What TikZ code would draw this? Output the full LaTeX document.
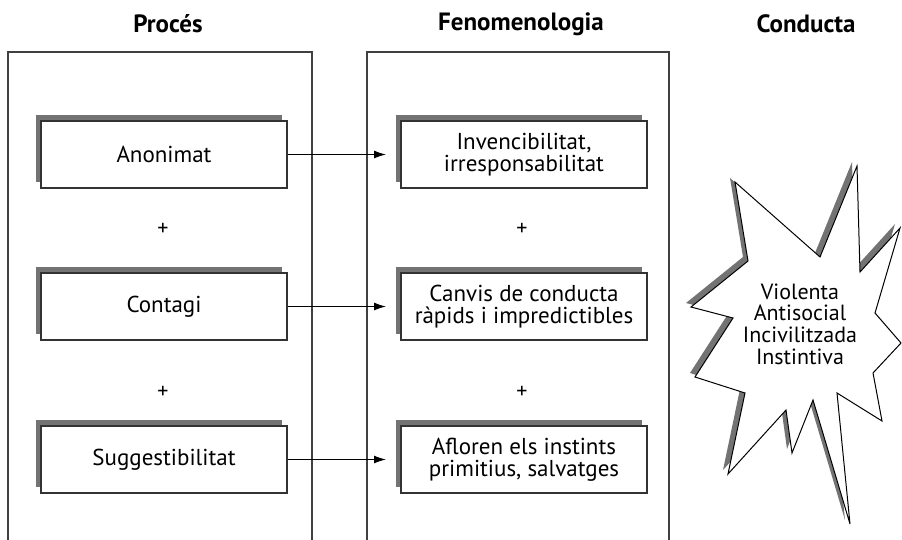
\documentclass[tikz,border=0pt]{standalone}
\usepackage{fontspec}
\setmainfont{PT Sans}
\usetikzlibrary{shadows,arrows.meta}
\begin{document}
\begin{tikzpicture}[x=1pt,y=-1pt,
  panel/.style={draw=black!75,line width=1.3pt},
  boxstyle/.style={draw=black!80,line width=1.2pt,fill=white,minimum width=246pt,minimum height=67pt,
    inner sep=0pt,align=center,font=\fontsize{23}{21.5}\selectfont,
    drop shadow={shadow xshift=-5pt,shadow yshift=6pt,fill=black!55,opacity=1}},
  head/.style={font=\bfseries\fontsize{25}{26}\selectfont},
  plus/.style={font=\fontsize{22}{22}\selectfont},
  arr/.style={-{Latex[length=12pt,width=8pt]},line width=1.1pt,black}
]
\useasboundingbox (0,0) rectangle (902,540);
% headings
\node[head] (h1) at (168,24) {Procés};
\node[head] (h2) at (521,24) {Fenomenologia};
\node[head] (h3) at (806,24) {Conducta};
% panels
\draw[panel] (8,541) -- (8,52) -- (312,52) -- (312,541);
\draw[panel] (367,541) -- (367,52) -- (669,52) -- (669,541);
% left boxes
\node[boxstyle] (a1) at (164,154.5) {Anonimat};
\node[boxstyle] (a2) at (164,306.5) {Contagi};
\node[boxstyle] (a3) at (164,459.5) {Suggestibilitat};
% middle boxes
\node[boxstyle] (b1) at (524,154.5) {Invencibilitat,\\irresponsabilitat};
\node[boxstyle] (b2) at (524,306.5) {Canvis de conducta\\ràpids i impredictibles};
\node[boxstyle] (b3) at (524,459.5) {Afloren els instints\\primitius, salvatges};
% plus signs
\node[plus] (p1) at (163,229) {+};
\node[plus] (p2) at (163,392) {+};
\node[plus] (p3) at (522,229) {+};
\node[plus] (p4) at (522,392) {+};
% arrows
\coordinate (e1) at (386,154.5);
\coordinate (e2) at (386,306.5);
\coordinate (e3) at (386,459.5);
\draw[arr] (a1.east) -- (e1);
\draw[arr] (a2.east) -- (e2);
\draw[arr] (a3.east) -- (e3);
% star
\def\starpath{(735,182) -- (820,257) -- (857,166) -- (860,272) -- (900,228) -- (875,313) -- (901,343) -- (873,373) -- (882,421) -- (837,393) -- (850,524) -- (813,400) -- (792,453) -- (786,410) -- (728,474) -- (745,393) -- (695,377) -- (733,318) -- (691,307) -- (748,261) -- cycle}
\fill[black!55,shift={(-5,-4)}] \starpath;
\draw[fill=white,draw=black,line width=1pt,line join=miter] \starpath;
\node[align=center,font=\fontsize{22}{21.7}\selectfont] (c) at (800,324) {Violenta\\Antisocial\\Incivilitzada\\Instintiva};
\end{tikzpicture}
\end{document}
